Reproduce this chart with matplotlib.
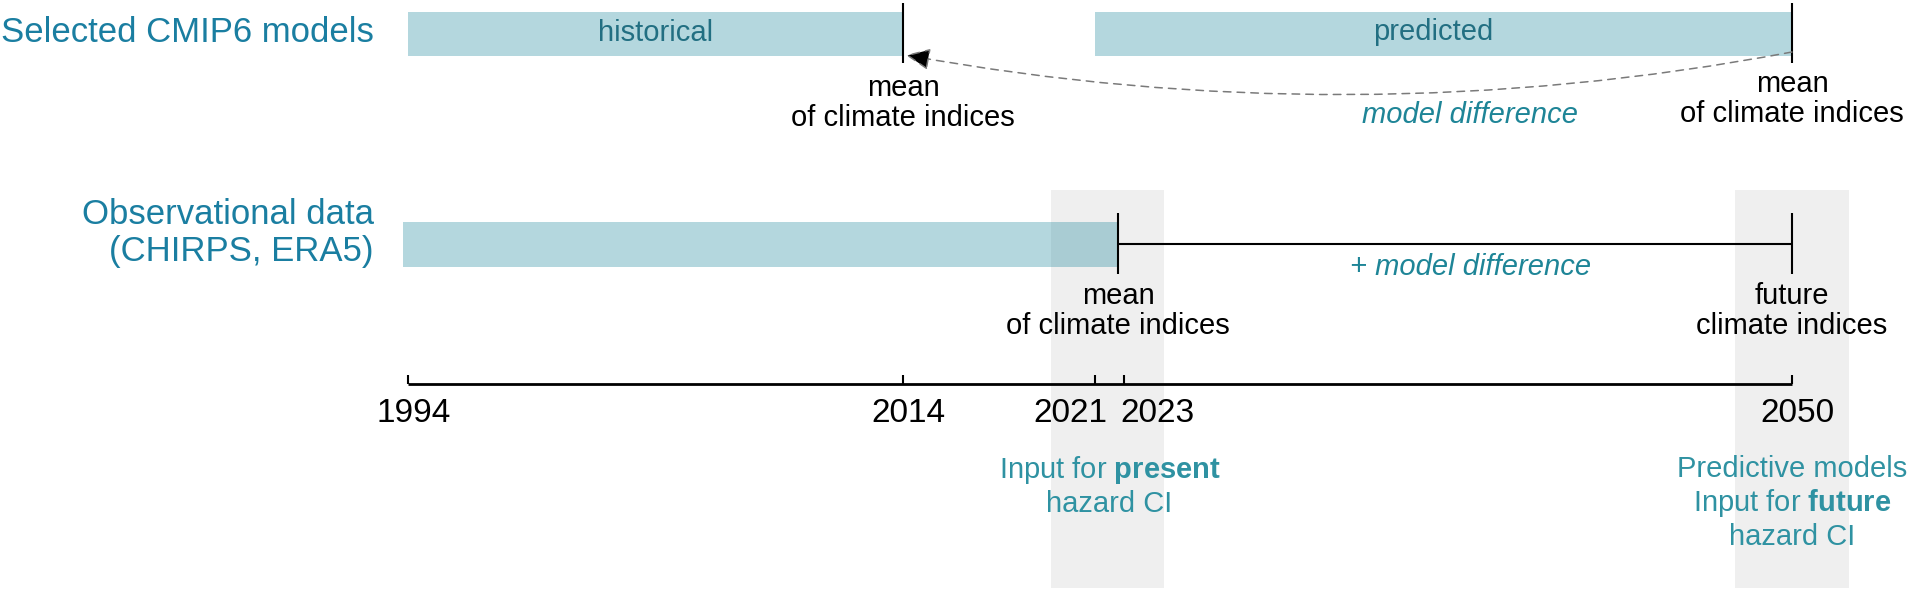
import numpy as np
import matplotlib
matplotlib.use("Agg")
import matplotlib.pyplot as plt

# ---------------- data ----------------
tick_years = [1994, 2014, 2021, 2023, 2050]
tick_labels = ["1994", "2014", "2021", "2023", "2050"]
cmip_historical = (1994, 2014)
cmip_predicted = (2021, 2050)
obs_period = (1993.8, 2022.6)
present_band = (2019.4, 2024.6)
future_band = (2047.7, 2052.3)

# ---------------- layout (schematic, non-linear time axis) ----------------
W, H = 1908, 591
anchor_px = [408, 903, 1095, 1124, 1792]
sl = (anchor_px[1] - anchor_px[0]) / (tick_years[1] - tick_years[0])
sr = (anchor_px[-1] - anchor_px[-2]) / (tick_years[-1] - tick_years[-2])


def forward(x):
    x = np.asarray(x, float)
    y = np.interp(x, tick_years, anchor_px)
    y = np.where(x < tick_years[0], anchor_px[0] + (x - tick_years[0]) * sl, y)
    y = np.where(x > tick_years[-1], anchor_px[-1] + (x - tick_years[-1]) * sr, y)
    return y


def inverse(p):
    p = np.asarray(p, float)
    x = np.interp(p, anchor_px, tick_years)
    x = np.where(p < anchor_px[0], tick_years[0] + (p - anchor_px[0]) / sl, x)
    x = np.where(p > anchor_px[-1], tick_years[-1] + (p - anchor_px[-1]) / sr, x)
    return x


plt.rcParams["font.family"] = ["Liberation Sans", "DejaVu Sans"]
plt.rcParams["mathtext.fontset"] = "custom"
plt.rcParams["mathtext.bf"] = "Liberation Sans:bold"
plt.rcParams["mathtext.rm"] = "Liberation Sans"

fig = plt.figure(figsize=(W / 100, H / 100), dpi=100)
ax = fig.add_axes([0, 0, 1, 1])
ax.set_xscale("function", functions=(forward, inverse))
ax.set_xlim(float(inverse(0)), float(inverse(W)))
ax.set_ylim(H, 0)
ax.axis("off")

BAR_C = (8 / 255, 125 / 255, 148 / 255)
BAR_A = 0.3
LBL_C = "#1a7ea1"
INBAR_C = "#226f82"
ITAL_C = "#1e8597"
BOT_C = "#2f92a2"
GRAY = "#efefef"

# gray bands
for b in (present_band, future_band):
    ax.fill_betweenx([190, 588], b[0], b[1], color=GRAY, lw=0, zorder=0)

# bars
ax.barh(34, cmip_historical[1] - cmip_historical[0], left=cmip_historical[0],
        height=44, color=BAR_C, alpha=BAR_A, lw=0, zorder=1)
ax.barh(34, cmip_predicted[1] - cmip_predicted[0], left=cmip_predicted[0],
        height=44, color=BAR_C, alpha=BAR_A, lw=0, zorder=1)
ax.barh(244.5, obs_period[1] - obs_period[0], left=obs_period[0],
        height=45, color=BAR_C, alpha=BAR_A, lw=0, zorder=1)

ax.text(np.mean(cmip_historical), 33, "historical", ha="center", va="center",
        fontsize=21, color=INBAR_C, zorder=3)
ax.text(np.mean(cmip_predicted), 32, "predicted", ha="center", va="center",
        fontsize=21, color=INBAR_C, zorder=3)

# left labels
ax.text(float(inverse(374)), 33, "Selected CMIP6 models", ha="right", va="center",
        fontsize=25, color=LBL_C)
ax.text(float(inverse(374)), 233, "Observational data\n(CHIRPS, ERA5)", ha="right",
        va="center", fontsize=25, color=LBL_C, linespacing=1.15, multialignment="right")

# top vertical markers
ax.vlines([cmip_historical[1], cmip_predicted[1]], 3, 63, color="k", lw=1.5, zorder=4)
ax.text(cmip_historical[1], 103, "mean\nof climate indices", ha="center", va="center",
        fontsize=21, color="k", linespacing=1.12)
ax.text(cmip_predicted[1], 99, "mean\nof climate indices", ha="center", va="center",
        fontsize=21, color="k", linespacing=1.12)

# dashed curved arrow (model difference)
ax.annotate("", xy=(cmip_historical[1] + 0.1, 55), xytext=(cmip_predicted[1], 52),
            arrowprops=dict(arrowstyle="-|>,head_length=1.0,head_width=0.45",
                            mutation_scale=15, connectionstyle="arc3,rad=-0.0925",
                            linestyle=(0, (5, 4)), lw=1.1, edgecolor="#7a7a7a",
                            facecolor="black", shrinkA=0, shrinkB=0), zorder=4)
ax.text(2037, 115, "model difference", ha="center", va="center", fontsize=21,
        style="italic", color=ITAL_C)

# bottom: + model difference
ax.vlines([obs_period[1], cmip_predicted[1]], 213, 274, color="k", lw=1.5, zorder=4)
ax.hlines(243.5, obs_period[1], cmip_predicted[1], color="k", lw=1.5, zorder=4)
ax.text(2037, 267, "+ model difference", ha="center", va="center", fontsize=21,
        style="italic", color=ITAL_C)
ax.text(obs_period[1], 311, "mean\nof climate indices", ha="center", va="center",
        fontsize=21, color="k", linespacing=1.12)
ax.text(cmip_predicted[1], 311, "future\nclimate indices", ha="center", va="center",
        fontsize=21, color="k", linespacing=1.12)

# time axis
ax.hlines(383.5, tick_years[0], tick_years[-1], color="k", lw=2.0, zorder=4)
ax.vlines(tick_years, 375, 383.5, color="k", lw=1.5, zorder=4)
offsets = [4, 4, -18, 24, 4]
for yr, lab, off in zip(tick_years, tick_labels, offsets):
    ax.annotate(lab, (yr, 414), xytext=(off, 0), textcoords="offset points",
                ha="center", va="center", fontsize=24, color="k")

# bottom teal annotations
ax.text(np.mean(present_band), 486, "Input for $\\mathbf{present}$\nhazard CI",
        ha="center", va="center", fontsize=21, color=BOT_C, linespacing=1.18)
ax.text(cmip_predicted[1], 503, "Predictive models\nInput for $\\mathbf{future}$\nhazard CI",
        ha="center", va="center", fontsize=21, color=BOT_C, linespacing=1.18)

fig.savefig("out.png", dpi=100)
